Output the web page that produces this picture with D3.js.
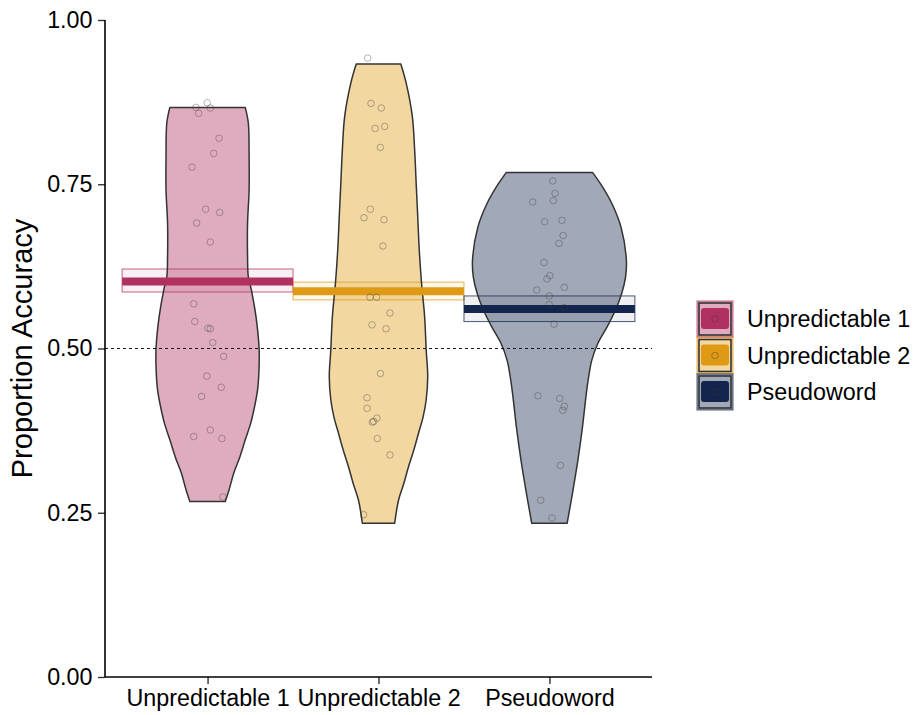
<!DOCTYPE html>
<html>
<head>
<meta charset="utf-8">
<script src="https://cdn.jsdelivr.net/npm/d3@7"></script>
<style>
  html, body { margin: 0; padding: 0; background: #fff; }
  svg { display: block; font-family: "Liberation Sans", Arial, sans-serif; }
</style>
</head>
<body>
<svg id="chart" width="916" height="715"></svg>
<script>
// ---------- DATA ----------
const categories = ["Unpredictable 1", "Unpredictable 2", "Pseudoword"];
const yTicks = [0, 0.25, 0.5, 0.75, 1];
const chanceLevel = 0.5;

const means  = [0.602, 0.587, 0.560];
const ciLow  = [0.586, 0.574, 0.541];
const ciHigh = [0.621, 0.601, 0.580];

// participant accuracies (as plotted, jittered) and their horizontal jitter (category units)
const acc1 = [0.867,0.874,0.866,0.858,0.820,0.797,0.776,0.712,0.707,0.691,0.662,0.568,0.541,0.531,0.530,0.509,0.488,0.458,0.441,0.427,0.376,0.366,0.363,0.274];
const jit1 = [-0.068,-0.002,0.016,-0.052,0.067,0.036,-0.091,-0.011,0.071,-0.064,0.016,-0.081,-0.075,0.002,0.016,0.030,0.094,-0.004,0.080,-0.035,0.016,-0.081,0.084,0.090];
const acc2 = [0.942,0.873,0.866,0.835,0.838,0.806,0.712,0.699,0.696,0.656,0.578,0.578,0.554,0.536,0.530,0.462,0.425,0.409,0.394,0.389,0.388,0.363,0.338,0.247];
const jit2 = [-0.063,-0.044,0.016,-0.020,0.036,0.011,-0.048,-0.085,0.032,0.026,-0.050,-0.011,0.067,-0.038,0.044,0.011,-0.067,-0.067,-0.009,-0.028,-0.036,-0.007,0.067,-0.087];
const acc3 = [0.755,0.736,0.723,0.725,0.693,0.695,0.672,0.660,0.631,0.611,0.606,0.589,0.593,0.580,0.567,0.562,0.537,0.428,0.424,0.412,0.406,0.322,0.269,0.242];
const jit3 = [0.019,0.033,-0.098,0.023,-0.028,0.074,0.080,0.056,-0.032,0.002,-0.014,-0.074,0.087,-0.001,-0.002,0.087,0.027,-0.067,0.060,0.087,0.078,0.064,-0.051,0.015];

// violin density profiles (value, relative density scaled to widest violin)
const violinY1 = [0.867,0.843,0.792,0.741,0.691,0.640,0.609,0.589,0.548,0.500,0.472,0.437,0.411,0.386,0.361,0.335,0.310,0.285,0.267];
const violinD1 = [0.49,0.53,0.54,0.54,0.52,0.52,0.53,0.57,0.63,0.67,0.67,0.65,0.61,0.56,0.49,0.42,0.34,0.28,0.23];
const violinY2 = [0.933,0.904,0.853,0.802,0.751,0.701,0.650,0.599,0.548,0.498,0.457,0.422,0.396,0.371,0.346,0.320,0.295,0.269,0.234];
const violinD2 = [0.29,0.36,0.44,0.47,0.49,0.51,0.53,0.56,0.60,0.62,0.64,0.62,0.58,0.52,0.46,0.39,0.33,0.26,0.21];
const violinY3 = [0.768,0.746,0.721,0.685,0.635,0.609,0.584,0.559,0.533,0.508,0.482,0.457,0.432,0.381,0.330,0.280,0.234];
const violinD3 = [0.56,0.69,0.81,0.93,1.00,0.99,0.94,0.86,0.75,0.63,0.55,0.51,0.48,0.43,0.37,0.30,0.23];

const accs = [acc1, acc2, acc3];
const jits = [jit1, jit2, jit3];
const violinYs = [violinY1, violinY2, violinY3];
const violinDs = [violinD1, violinD2, violinD3];

// ---------- STYLE ----------
const colors = ["#B03060", "#DE9A14", "#13254C"];
const fontBase = 29;
const fontSmall = 23.3;

// ---------- LAYOUT ----------
const svg = d3.select("#chart");
const plot = { left: 105, right: 652, top: 20, bottom: 677 };

const x = d3.scaleLinear().domain([0.4, categories.length + 0.6]).range([plot.left, plot.right]);
const y = d3.scaleLinear().domain([0, 1]).range([plot.bottom, plot.top]);
const unit = x(1) - x(0);
const violinHalf = d3.scaleLinear().domain([0, 1]).range([0, 0.45 * unit]);

const g = svg.append("g");

// CI rectangles (behind)
categories.forEach((c, i) => {
  const cx = x(i + 1);
  g.append("rect")
    .attr("x", cx - unit / 2)
    .attr("width", unit)
    .attr("y", y(ciHigh[i]))
    .attr("height", y(ciLow[i]) - y(ciHigh[i]))
    .attr("fill", colors[i]).attr("fill-opacity", 0.07)
    .attr("stroke", colors[i]).attr("stroke-opacity", 0.75).attr("stroke-width", 1);
});

// violins
categories.forEach((c, i) => {
  const cx = x(i + 1);
  const prof = violinYs[i].map((v, k) => [v, violinDs[i][k]]);
  const area = d3.area()
    .y(d => y(d[0]))
    .x0(d => cx - violinHalf(d[1]))
    .x1(d => cx + violinHalf(d[1]))
    .curve(d3.curveCatmullRom.alpha(0.5));
  g.append("path")
    .attr("d", area(prof))
    .attr("fill", colors[i]).attr("fill-opacity", 0.4)
    .attr("stroke", "#333").attr("stroke-width", 1.5)
    .attr("stroke-linejoin", "round");
});

// chance line
g.append("line")
  .attr("x1", plot.left).attr("x2", plot.right)
  .attr("y1", y(chanceLevel)).attr("y2", y(chanceLevel))
  .attr("stroke", "#000").attr("stroke-width", 0.9)
  .attr("stroke-dasharray", "3,3");

// mean bars
categories.forEach((c, i) => {
  const cx = x(i + 1);
  g.append("line")
    .attr("x1", cx - unit / 2).attr("x2", cx + unit / 2)
    .attr("y1", y(means[i])).attr("y2", y(means[i]))
    .attr("stroke", colors[i]).attr("stroke-width", 8);
});

// points
categories.forEach((c, i) => {
  g.selectAll(null).data(accs[i]).enter().append("circle")
    .attr("cx", (d, k) => x(i + 1 + jits[i][k]))
    .attr("cy", d => y(d))
    .attr("r", 3.3)
    .attr("fill", "none")
    .attr("stroke", "#3a3a3a").attr("stroke-opacity", 0.42).attr("stroke-width", 0.9);
});

// axes
const yAxis = d3.axisLeft(y).tickValues(yTicks).tickFormat(d3.format(".2f")).tickSize(7).tickPadding(5.5);
const yG = svg.append("g").attr("transform", `translate(${plot.left},0)`).call(yAxis);
yG.select(".domain").remove();
yG.append("line").attr("x1", 0).attr("x2", 0).attr("y1", plot.top).attr("y2", plot.bottom)
  .attr("stroke", "#000").attr("stroke-width", 1.6);
yG.selectAll(".tick line").attr("stroke", "#333").attr("stroke-width", 1.4);
yG.selectAll(".tick text").attr("font-size", fontSmall).attr("fill", "#000")
  .attr("font-family", "Liberation Sans, Arial, sans-serif");

const xAxis = d3.axisBottom(x).tickValues(categories.map((c, i) => i + 1))
  .tickFormat(d => categories[d - 1]).tickSize(7).tickPadding(5);
const xG = svg.append("g").attr("transform", `translate(0,${plot.bottom})`).call(xAxis);
xG.select(".domain").remove();
xG.append("line").attr("x1", plot.left).attr("x2", plot.right).attr("y1", 0).attr("y2", 0)
  .attr("stroke", "#000").attr("stroke-width", 1.6);
xG.selectAll(".tick line").attr("stroke", "#333").attr("stroke-width", 1.4);
xG.selectAll(".tick text").attr("font-size", fontSmall).attr("fill", "#000")
  .attr("font-family", "Liberation Sans, Arial, sans-serif");

// y title
svg.append("text")
  .attr("transform", `translate(32,${(plot.top + plot.bottom) / 2}) rotate(-90)`)
  .attr("text-anchor", "middle")
  .attr("font-size", fontBase)
  .attr("fill", "#000")
  .text("Proportion Accuracy");

// legend
const keySize = 36, keyX = 697, keyY0 = 301, keyStep = 36.5;
const leg = svg.append("g");
categories.forEach((c, i) => {
  const ky = keyY0 + i * keyStep;
  const kg = leg.append("g").attr("transform", `translate(${keyX},${ky})`);
  kg.append("rect").attr("x", 0).attr("y", 0).attr("width", keySize).attr("height", keySize)
    .attr("fill", colors[i]).attr("fill-opacity", 0.4)
    .attr("stroke", colors[i]).attr("stroke-opacity", 0.75).attr("stroke-width", 1);
  kg.append("rect").attr("x", 2).attr("y", 2).attr("width", keySize - 4).attr("height", keySize - 4)
    .attr("fill", "none").attr("stroke", "#333").attr("stroke-width", 1.6);
  kg.append("rect").attr("x", 4).attr("y", 7).attr("width", keySize - 8).attr("height", 21)
    .attr("rx", 3).attr("fill", colors[i]);
  kg.append("circle").attr("cx", keySize / 2).attr("cy", keySize / 2).attr("r", 3.3)
    .attr("fill", "none").attr("stroke", "#3a3a3a").attr("stroke-opacity", 0.45).attr("stroke-width", 0.9);
  leg.append("text")
    .attr("x", 747).attr("y", ky + keySize / 2)
    .attr("dy", "0.35em")
    .attr("font-size", fontSmall)
    .attr("fill", "#000")
    .text(c);
});
</script>
</body>
</html>
